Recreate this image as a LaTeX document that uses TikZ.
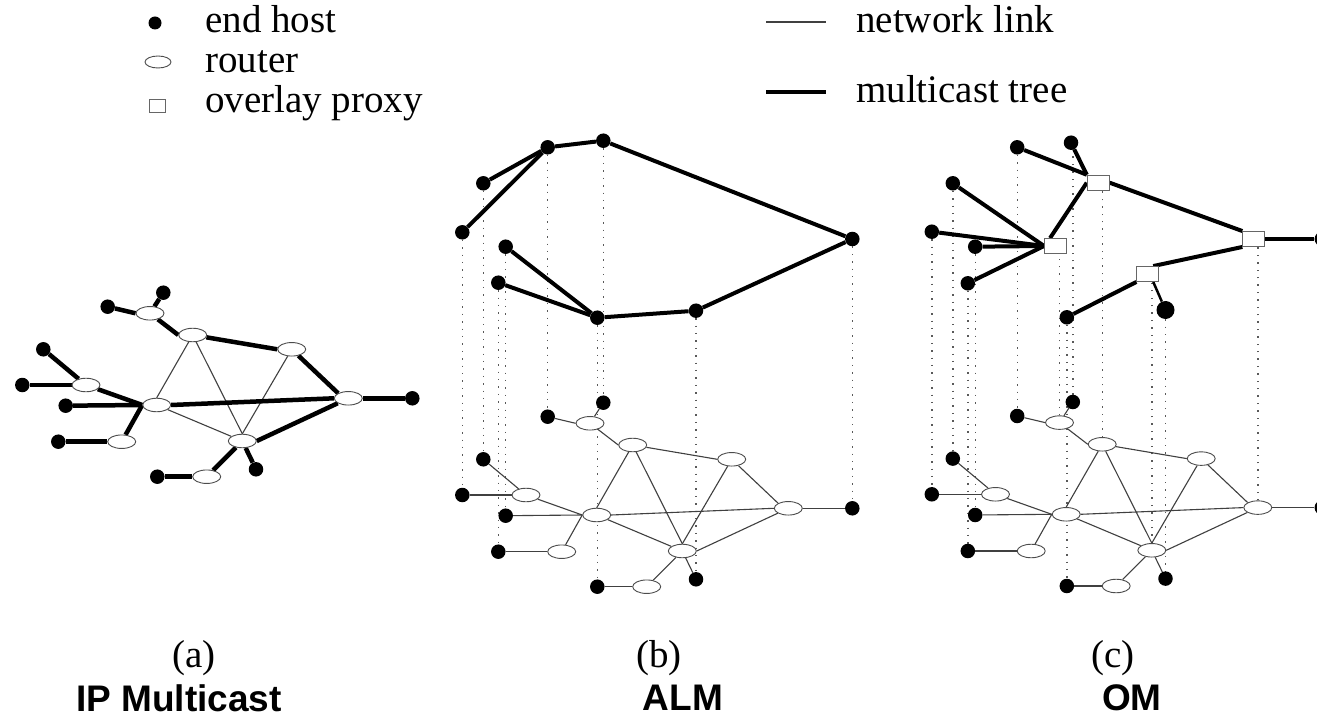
\documentclass[tikz,border=0pt]{standalone}
\usepackage{fontspec}
\setmainfont{Liberation Serif}
\newfontfamily\capfont{Liberation Sans}
\usetikzlibrary{shapes.geometric}
\pgfdeclarelayer{back}
\pgfdeclarelayer{dots}
\pgfdeclarelayer{links}
\pgfsetlayers{back,dots,links,main}

\tikzset{
  host/.style={circle, fill=black, inner sep=0pt, minimum size=14.5pt},
  bighost/.style={host, minimum size=18pt},
  router/.style={ellipse, draw=black!70, line width=0.9pt, fill=white,
    inner sep=0pt, minimum width=28pt, minimum height=13.5pt},
  proxy/.style={rectangle, draw=black!60, line width=0.9pt, fill=white,
    inner sep=0pt, minimum width=22pt, minimum height=15pt},
  nlink/.style={line width=1.1pt, draw=black!75},
  mtree/.style={line width=4pt, draw=black},
  dotline/.style={draw=black!65, line width=1.4pt, dash pattern=on 1.4pt off 6pt},
  legtext/.style={font=\fontsize{39}{42}\selectfont, inner sep=0pt, anchor=base west},
  captext/.style={font=\fontsize{39}{42}\selectfont, inner sep=0pt},
  schemetext/.style={font=\capfont\bfseries\fontsize{37}{40}\selectfont, inner sep=0pt},
}

% routers and end hosts of the physical network
\newcommand{\netnodes}{%
  \node[host]   (h1) at (603.3,402.7) {};
  \node[host]   (h2) at (547.7,416.7) {};
  \node[router] (r1) at (590,423.3) {};
  \node[router] (r2) at (632.7,445) {};
  \node[router] (r3) at (731.7,459.3) {};
  \node[host]   (h3) at (483.3,459.3) {};
  \node[router] (r4) at (526,495) {};
  \node[host]   (h4) at (462.3,495) {};
  \node[router] (r5) at (596.7,515) {};
  \node[host]   (h5) at (505.7,515.7) {};
  \node[router] (r6) at (788.3,508.3) {};
  \node[host]   (h6) at (852.3,508.3) {};
  \node[router] (r7) at (682.3,551) {};
  \node[host]   (h7) at (498.3,551.7) {};
  \node[router] (r8) at (561.7,551.7) {};
  \node[router] (r9) at (646.7,586.7) {};
  \node[host]   (h8) at (597.3,586.7) {};
  \node[host]   (h9) at (696,579.3) {};
}

% links of the physical network
\newcommand{\netlinks}{%
  \begin{pgfonlayer}{links}
  \draw[treeedge]  (h1) -- (r1);
  \draw[treeedge]  (h2) -- (r1.west);
  \draw[treeedge]  (r1) -- (r2.west);
  \draw[treeedge]  (r2) -- (r3.west);
  \draw[crossedge] (r2) -- (r5.north);
  \draw[crossedge] (r2) -- (r7.north);
  \draw[crossedge] (r3) -- (r7.north);
  \draw[treeedge]  (r3) -- (r6.north west);
  \draw[treeedge]  (h3) -- (r4);
  \draw[treeedge]  (r4) -- (r5.west);
  \draw[treeedge]  (h4) -- (r4.west);
  \draw[treeedge]  (h5) -- (r5.west);
  \draw[treeedge]  (r5.east) -- (r6.west);
  \draw[crossedge] (r5) -- (r7);
  \draw[treeedge]  (r8) -- (r5.west);
  \draw[treeedge]  (h7) -- (r8.west);
  \draw[treeedge]  (r7.east) -- (r6);
  \draw[treeedge]  (r7) -- (r9);
  \draw[treeedge]  (h8) -- (r9.west);
  \draw[treeedge]  (r7) -- (h9);
  \draw[treeedge]  (r6.east) -- (h6);
  \end{pgfonlayer}
}

\begin{document}
\begin{tikzpicture}[x=1pt, y=-1pt]
\useasboundingbox (0,0) rectangle (1317,719);
\begin{pgfonlayer}{back}
  \fill[white] (0,0) rectangle (1317,719);
\end{pgfonlayer}

% ---------- legend ----------
\node[host, minimum size=13pt] (lg-host) at (155,23) {};
\node[legtext] (lg-hostt) at (205,33) {end host};
\node[router, minimum width=26pt, minimum height=12pt] (lg-router) at (158,62) {};
\node[legtext] (lg-routert) at (205,73) {router};
\node[proxy, minimum width=16pt, minimum height=13pt] (lg-proxy) at (157,106) {};
\node[legtext] (lg-proxyt) at (205,113) {overlay proxy};

\coordinate (lg-n1) at (766,22);
\coordinate (lg-n2) at (826,22);
\draw[nlink] (lg-n1) -- (lg-n2);
\node[legtext] (lg-linkt) at (856,33) {network link};
\coordinate (lg-m1) at (766,92);
\coordinate (lg-m2) at (826,92);
\draw[mtree] (lg-m1) -- (lg-m2);
\node[legtext] (lg-treet) at (856,103) {multicast tree};

% ---------- (a) IP multicast ----------
\begin{scope}[shift={(-440,-110)}, name prefix=a-,
    treeedge/.style={mtree, line width=4.5pt}, crossedge/.style={nlink}]
  \netnodes
  \netlinks
\end{scope}

% ---------- (b) application level multicast ----------
\begin{scope}[name prefix=b-,
    treeedge/.style={nlink}, crossedge/.style={nlink}]
  \netnodes
  \netlinks
\end{scope}
\node[host] (b-A) at (547.7,147.3) {};
\node[host] (b-B) at (603.3,140.7) {};
\node[host] (b-C) at (483.3,183.3) {};
\node[host] (b-D) at (462.3,232.3) {};
\node[host] (b-E) at (852.3,239) {};
\node[host] (b-F) at (505.7,246.7) {};
\node[host] (b-G) at (498.3,282.7) {};
\node[host] (b-H) at (597.3,317.7) {};
\node[host] (b-I) at (696,310.7) {};
\begin{pgfonlayer}{links}
  \draw[mtree] (b-C) -- (b-A);
  \draw[mtree] (b-D) -- (b-A);
  \draw[mtree] (b-A) -- (b-B);
  \draw[mtree] (b-B) -- (b-E);
  \draw[mtree] (b-E) -- (b-I);
  \draw[mtree] (b-I) -- (b-H);
  \draw[mtree] (b-F) -- (b-H);
  \draw[mtree] (b-G) -- (b-H);
\end{pgfonlayer}
\begin{pgfonlayer}{dots}
  \draw[dotline] (b-A) -- (b-h2);
  \draw[dotline] (b-B) -- (b-h1);
  \draw[dotline] (b-C) -- (b-h3);
  \draw[dotline] (b-D) -- (b-h4);
  \draw[dotline] (b-E) -- (b-h6);
  \draw[dotline] (b-F) -- (b-h5);
  \draw[dotline] (b-G) -- (b-h7);
  \draw[dotline] (b-H) -- (b-h8);
  \draw[dotline] (b-I) -- (b-h9);
\end{pgfonlayer}

% ---------- (c) overlay multicast ----------
\begin{scope}[shift={(469.5,-0.7)}, name prefix=c-,
    treeedge/.style={nlink}, crossedge/.style={nlink}]
  \netnodes
  \netlinks
\end{scope}
\node[host]    (c-a)  at (1017.2,147.3) {};
\node[host]    (c-b)  at (1071,142.7) {};
\node[host]    (c-c)  at (952.8,183.3) {};
\node[host]    (c-d)  at (931.8,231.7) {};
\node[host]    (c-e)  at (975.2,246.7) {};
\node[host]    (c-f)  at (967.8,283.3) {};
\node[host]    (c-g)  at (1066.8,317.3) {};
\node[bighost] (c-hh) at (1165.5,310) {};
\node[host]    (c-i)  at (1321.8,239) {};
\node[proxy]   (c-P1) at (1098.2,182.7) {};
\node[proxy]   (c-P2) at (1055.5,246) {};
\node[proxy]   (c-P3) at (1253.8,239) {};
\node[proxy]   (c-P4) at (1147.8,274) {};
\begin{pgfonlayer}{links}
  \draw[mtree] (c-a) -- (c-P1.north west);
  \draw[mtree] (c-b) -- (c-P1.north west);
  \draw[mtree] (c-P1.west) -- ([xshift=6pt]c-P2.north west);
  \draw[mtree] (c-P1.east) -- (c-P3.north west);
  \draw[mtree] (c-c) -- (c-P2.west);
  \draw[mtree] (c-d) -- (c-P2.west);
  \draw[mtree] (c-e) -- (c-P2.west);
  \draw[mtree] (c-f) -- (c-P2.west);
  \draw[mtree] (c-P3.east) -- (c-i);
  \draw[mtree] (c-P3.south west) -- ([xshift=-6pt]c-P4.north east);
  \draw[mtree] (c-P4.south west) -- (c-g);
  \draw[line width=2.5pt] ([xshift=-6pt]c-P4.south east) -- (c-hh);
\end{pgfonlayer}
\begin{pgfonlayer}{dots}
  \draw[dotline] (c-a)  -- (c-h2);
  \draw[dotline] (c-h1) -- (c-h1 |- c-b);
  \draw[dotline] (c-c)  -- (c-h3);
  \draw[dotline] (c-d)  -- (c-h4);
  \draw[dotline] (c-e)  -- (c-h5);
  \draw[dotline] (c-f)  -- (c-h7);
  \draw[dotline] (c-g)  -- (c-h8);
  \draw[dotline] (c-hh) -- (c-h9);
  \draw[dotline] (c-i)  -- (c-h6);
  \draw[dotline] (c-r2) -- (c-r2 |- c-P1);
  \draw[dotline] (c-r1) -- (c-r1 |- c-P2);
  \draw[dotline] (c-r6) -- (c-r6 |- c-P3);
  \draw[dotline] (c-r7) -- (c-r7 |- c-P4);
\end{pgfonlayer}

% ---------- captions ----------
\node[captext] (cap-a) at (194,658) {(a)};
\node[captext] (cap-b) at (659,658) {(b)};
\node[captext] (cap-c) at (1113,658) {(c)};
\node[schemetext] (name-a) at (179,698) {IP Multicast};
\node[schemetext] (name-b) at (683,698) {ALM};
\node[schemetext] (name-c) at (1132,698) {OM};
\end{tikzpicture}
\end{document}
